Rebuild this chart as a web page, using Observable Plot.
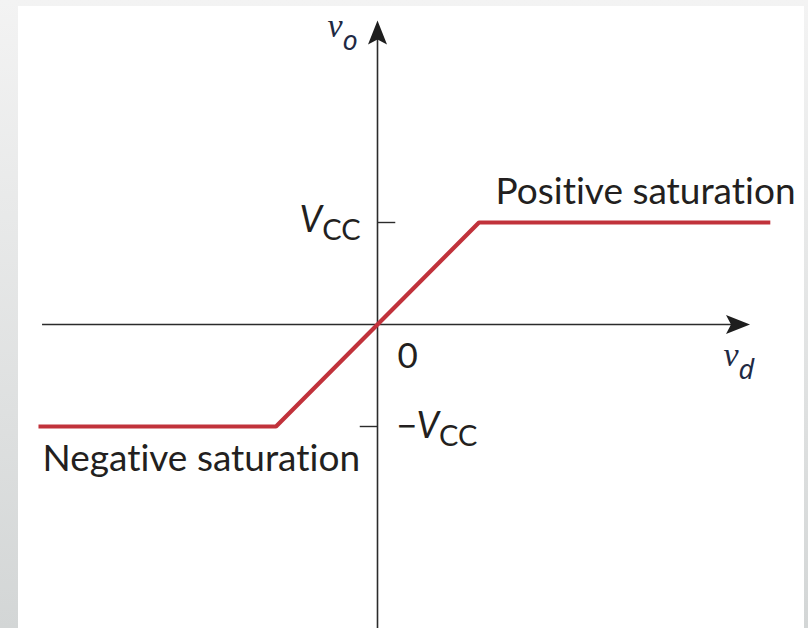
<!DOCTYPE html>
<html><head><meta charset="utf-8">
<script src="https://cdn.jsdelivr.net/npm/d3@7"></script>
<script src="https://cdn.jsdelivr.net/npm/@observablehq/plot@0.6"></script>
<style>
html,body{margin:0;padding:0;background:#fff;}
body{width:808px;height:628px;overflow:hidden;}
svg{display:block}
svg text{font-variant-ligatures:none;font-feature-settings:"liga" 0,"clig" 0;}
</style></head><body><div id="chart"></div><script>
// Transfer characteristic (normalised: Vcc = 1)
const vd = [-3.34, -1, 0, 1, 3.87];
const vo = [-1, -1, 0, 1, 1];
// tick values on the vo axis and their labels
const tickValues = [1, -1];
const tickLabels = ["V_CC", "−V_CC"];
const originLabel = ["0"];
const regionLabels = ["Positive saturation", "Negative saturation"];
const axisNames = ["v_o", "v_d"];

const curve = vd.map((x, i) => ({x, y: vo[i]}));
const red = "#c1323b";
const ink = "#2b2b2b";
const textInk = "#231f20";

const arrowHead = {
  draw(ctx) {
    ctx.moveTo(0, 0);
    ctx.lineTo(9.5, 24);
    ctx.lineTo(0, 19);
    ctx.lineTo(-9.5, 24);
    ctx.closePath();
  }
};

const xEnd = 3.67, yEnd = 2.98, xStart = -3.3, yStart = -2.98;

const chart = Plot.plot({
  width: 808,
  height: 628,
  margin: 0,
  style: "background: linear-gradient(#fff,#fff) 18px 6px/786px 622px no-repeat, linear-gradient(to bottom,#f3f3f3,#d3d6d6); overflow: visible;",
  x: {domain: [-377 / 101.5, 431 / 101.5], axis: null},
  y: {domain: [-(628 - 324) / 102, 324 / 102], axis: null},
  marks: [
    // axes
    Plot.ruleY([0], {x1: xStart, x2: xEnd - 0.1, stroke: ink, strokeWidth: 1.6}),
    Plot.ruleX([0], {y1: yStart, y2: yEnd - 0.1, stroke: ink, strokeWidth: 1.6}),
    Plot.dot([{x: 0, y: yEnd}], {x: "x", y: "y", symbol: arrowHead, fill: "#1e1e1e", stroke: "none"}),
    Plot.dot([{x: xEnd, y: 0}], {x: "x", y: "y", symbol: arrowHead, fill: "#1e1e1e", stroke: "none", rotate: 90}),
    // ticks
    Plot.ruleY([tickValues[0]], {x1: 0, x2: 0.18, stroke: ink, strokeWidth: 1.4}),
    Plot.ruleY([tickValues[1]], {x1: -0.17, x2: 0, stroke: ink, strokeWidth: 1.4}),
    // transfer curve
    Plot.line(curve, {x: "x", y: "y", stroke: red, strokeWidth: 4.2, strokeLinejoin: "miter", strokeLinecap: "butt"}),
    // tick labels
    Plot.text([tickLabels[0]], {x: -0.167, y: 0.902, text: d => d, textAnchor: "end", lineAnchor: "bottom", fontFamily: "Lato", fontSize: 36, fill: textInk}),
    Plot.text([tickLabels[1]], {x: 0.197, y: -1.108, text: d => d, textAnchor: "start", lineAnchor: "bottom", fontFamily: "Lato", fontSize: 36, fill: textInk}),
    Plot.text(originLabel, {x: 0.197, y: -0.431, text: d => d, textAnchor: "start", lineAnchor: "bottom", fontFamily: "Lato", fontSize: 35, fill: textInk}),
    // region labels
    Plot.text([regionLabels[0]], {x: 1.163, y: 1.186, text: d => d, textAnchor: "start", lineAnchor: "bottom", fontFamily: "Lato", fontSize: 37, fill: textInk}),
    Plot.text([regionLabels[1]], {x: -3.30, y: -1.441, text: d => d, textAnchor: "start", lineAnchor: "bottom", fontFamily: "Lato", fontSize: 37, fill: textInk}),
    // axis names
    Plot.text([axisNames[0]], {x: -0.493, y: 2.814, text: d => d, textAnchor: "start", lineAnchor: "bottom", fontFamily: "Liberation Serif", fontSize: 34, fill: "#1f2a44"}),
    Plot.text([axisNames[1]], {x: 3.409, y: -0.402, text: d => d, textAnchor: "start", lineAnchor: "bottom", fontFamily: "Liberation Serif", fontSize: 34, fill: "#1f2a44"})
  ]
});

// turn "main_sub" strings into text with subscripts
const NS = "http://www.w3.org/2000/svg";
chart.querySelectorAll("text").forEach(t => {
  const s = t.textContent;
  if (!s.includes("_")) return;
  const [main, sub] = s.split("_");
  while (t.firstChild) t.removeChild(t.firstChild);
  const add = (txt, attrs) => {
    const ts = document.createElementNS(NS, "tspan");
    ts.textContent = txt;
    for (const k in attrs) ts.setAttribute(k, attrs[k]);
    t.appendChild(ts);
  };
  if (main.endsWith("V")) {
    if (main.length > 1) add(main.slice(0, -1), {"font-family": "Noto Sans", "font-size": "33px"});
    add("V", {"font-style": "italic"});
    add(sub, {"font-size": "29px", "dy": "8"});
  } else {
    add(main, {"font-style": "italic"});
    add(sub, {"font-size": "27px", "dy": "13", "font-family": "Noto Sans", "font-style": "italic"});
  }
});

document.getElementById("chart").appendChild(chart);
</script></body></html>
